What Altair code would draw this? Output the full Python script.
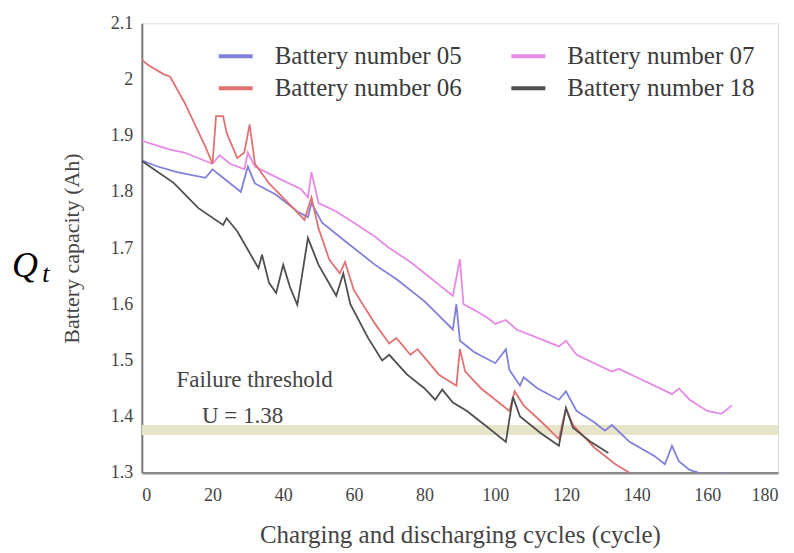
import altair as alt
import pandas as pd

# ---- data ----
series_names = ["Battery number 05", "Battery number 06", "Battery number 07", "Battery number 18"]
series_colors = ["#8080dc", "#e27272", "#e68ae6", "#4f4f4f"]

b05_cycle = [0, 4, 10, 18, 20, 22, 26, 28, 30, 32, 38, 44, 47, 48, 51, 58, 66, 72, 80, 84, 88, 89, 90,
             94, 100, 103, 104, 107, 108, 112, 118, 120, 123, 128, 131, 133, 138, 145, 148, 150, 152,
             155, 160, 165]
b05_cap = [1.856, 1.846, 1.835, 1.825, 1.84, 1.83, 1.81, 1.80, 1.845, 1.815, 1.795, 1.765, 1.755, 1.78,
           1.745, 1.71, 1.67, 1.645, 1.605, 1.58, 1.555, 1.60, 1.535, 1.515, 1.495, 1.52, 1.483, 1.455,
           1.47, 1.45, 1.43, 1.445, 1.41, 1.39, 1.375, 1.385, 1.355, 1.33, 1.315, 1.348, 1.32, 1.305,
           1.295, 1.30]

b07_cycle = [0, 3, 8, 12, 18, 20, 22, 25, 29, 30, 32, 40, 45, 47, 48, 50, 55, 60, 66, 70, 76, 80, 85,
             88, 90, 91, 94, 98, 100, 103, 106, 112, 118, 120, 123, 128, 133, 135, 140, 145, 150, 152,
             155, 160, 164, 167]
b07_cap = [1.891, 1.885, 1.875, 1.87, 1.855, 1.85, 1.865, 1.85, 1.84, 1.87, 1.845, 1.82, 1.805, 1.79,
           1.835, 1.78, 1.765, 1.745, 1.72, 1.70, 1.675, 1.655, 1.63, 1.615, 1.68, 1.60, 1.59, 1.575,
           1.565, 1.572, 1.555, 1.54, 1.525, 1.535, 1.51, 1.495, 1.48, 1.485, 1.47, 1.455, 1.44, 1.45,
           1.43, 1.41, 1.405, 1.42]

b06_cycle = [0, 2, 6, 8, 12, 18, 20, 21, 23, 24, 27, 29, 30.5, 32, 36, 43, 46, 48, 50, 53, 56, 57.5,
             60, 66, 70, 72, 76, 78, 84, 89, 90, 91.5, 96, 101, 104, 105.5, 108, 114, 118, 120, 122,
             128, 134, 138]
b06_cap = [2.035, 2.025, 2.01, 2.005, 1.96, 1.88, 1.85, 1.935, 1.935, 1.905, 1.86, 1.87, 1.92, 1.85,
           1.815, 1.77, 1.75, 1.79, 1.735, 1.68, 1.655, 1.675, 1.625, 1.565, 1.53, 1.54, 1.51, 1.52,
           1.475, 1.455, 1.52, 1.48, 1.45, 1.425, 1.41, 1.445, 1.42, 1.385, 1.36, 1.415, 1.385, 1.345,
           1.315, 1.30]

b18_cycle = [0, 9, 16, 23, 24, 27, 33, 34, 36, 38, 40, 42, 44, 47, 50, 55, 57, 59, 64, 68, 70, 75, 80,
             83, 85, 88, 92, 98, 103, 105, 107, 113, 118, 120, 122, 127, 132]
b18_cap = [1.855, 1.816, 1.771, 1.741, 1.753, 1.73, 1.664, 1.688, 1.638, 1.62, 1.67, 1.629, 1.599,
           1.718, 1.67, 1.615, 1.655, 1.60, 1.54, 1.50, 1.51, 1.475, 1.45, 1.43, 1.448, 1.425, 1.41,
           1.38, 1.355, 1.435, 1.40, 1.37, 1.348, 1.415, 1.38, 1.355, 1.335]

threshold_value = [1.376]
note_text = ["Failure threshold", "U = 1.38"]
note_cycle = [31.9, 28.5]
note_cap = [1.465, 1.401]

x_ticks = [0, 20, 40, 60, 80, 100, 120, 140, 160, 180]
y_ticks = [1.3, 1.4, 1.5, 1.6, 1.7, 1.8, 1.9, 2.0, 2.1]

# ---- build table ----
frames = []
for name, cyc, cap in [
    ("Battery number 05", b05_cycle, b05_cap),
    ("Battery number 07", b07_cycle, b07_cap),
    ("Battery number 06", b06_cycle, b06_cap),
    ("Battery number 18", b18_cycle, b18_cap),
]:
    frames.append(pd.DataFrame({"cycle": cyc, "capacity": cap, "battery": name}))
df = pd.concat(frames, ignore_index=True)
df["order"] = df.index

FONT = "Liberation Serif"
TXT = "#444444"

x_scale = alt.Scale(domain=[0, 180], nice=False, zero=False)
y_scale = alt.Scale(domain=[1.3, 2.1], nice=False, zero=False)

x_axis = alt.Axis(values=x_ticks, format="d", title="Charging and discharging cycles (cycle)",
                  grid=False, tickSize=0, labelPadding=14, labelFontSize=18, labelFont=FONT,
                  labelColor=TXT, titleFont=FONT, titleFontSize=25, titleFontWeight="normal",
                  titleColor=TXT, titleY=62, titleBaseline="middle",
                  domainColor="#8a8a8a", domainWidth=2.5)
y_axis = alt.Axis(values=y_ticks, format="~g", title="Battery capacity (Ah)",
                  grid=False, tickSize=0, labelPadding=9, labelFontSize=18, labelFont=FONT,
                  labelColor=TXT, titleFont=FONT, titleFontSize=22, titleFontWeight="normal",
                  titleColor=TXT, titleX=-70, titleBaseline="middle",
                  domainColor="#7a7a7a", domainWidth=2)

band = alt.Chart(pd.DataFrame({"y": threshold_value})).mark_rule(
    color="#e6e4c9", strokeWidth=10
).encode(y=alt.Y("y:Q", scale=y_scale, axis=y_axis))

lines = alt.Chart(df).mark_line(strokeWidth=1.8, clip=True).encode(
    x=alt.X("cycle:Q", scale=x_scale, axis=x_axis),
    y=alt.Y("capacity:Q", scale=y_scale, axis=y_axis),
    color=alt.Color("battery:N",
                    scale=alt.Scale(domain=series_names, range=series_colors),
                    sort=series_names,
                    legend=alt.Legend(title=None, orient="none", legendX=63, legendY=2,
                                      columns=2, columnPadding=41, rowPadding=0,
                                      padding=12, fillColor="white",
                                      symbolType="stroke", symbolSize=1156,
                                      symbolStrokeWidth=4, labelOffset=20,
                                      labelFont=FONT, labelFontSize=25, labelColor="#3a3a3a",
                                      labelLimit=400)),
    order="order:Q",
)

notes = alt.Chart(pd.DataFrame({"t": note_text, "x": note_cycle, "y": note_cap})).mark_text(
    font=FONT, fontSize=23, color=TXT, align="center", baseline="middle"
).encode(x=alt.X("x:Q", scale=x_scale), y=alt.Y("y:Q", scale=y_scale), text="t:N")

q_label = alt.Chart(pd.DataFrame({"t": ["Q"]})).mark_text(
    font=FONT, fontSize=36, fontStyle="italic", color="#000000", align="center",
    baseline="alphabetic"
).encode(x=alt.value(-117), y=alt.value(254), text="t:N")

t_label = alt.Chart(pd.DataFrame({"t": ["t"]})).mark_text(
    font=FONT, fontSize=26, fontStyle="italic", color="#000000", align="center",
    baseline="alphabetic"
).encode(x=alt.value(-96), y=alt.value(259), text="t:N")

chart = alt.layer(band, lines, notes, q_label, t_label).properties(
    width=637, height=450,
    autosize=alt.AutoSizeParams(type="none"),
    padding={"left": 134, "top": 15, "right": 8, "bottom": 80},
).configure_view(stroke="#9a9a9a", strokeWidth=1.5).configure(background="white")

chart.save("out.html", embed_options={"renderer": "svg", "actions": False})
